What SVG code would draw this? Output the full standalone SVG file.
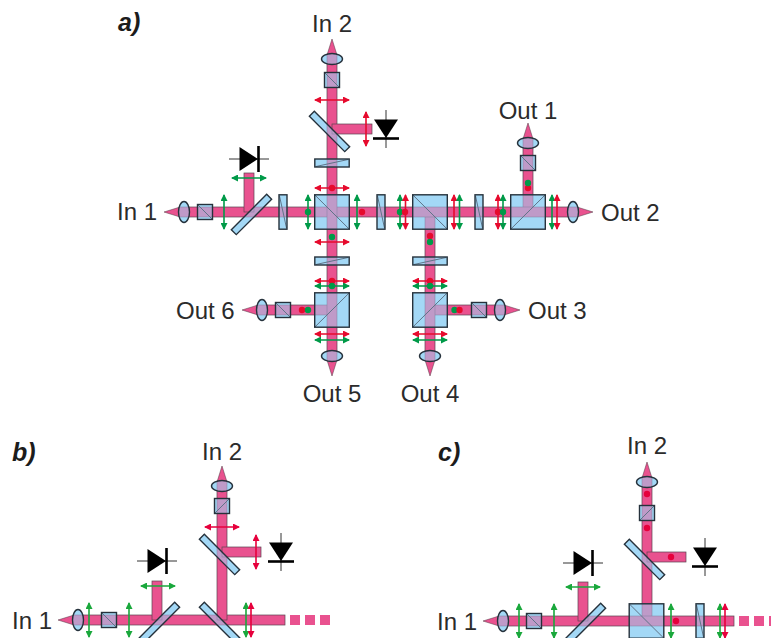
<svg xmlns="http://www.w3.org/2000/svg" width="771" height="638" viewBox="0 0 771 638">
<style>
.blue{fill:#a3d8f6}
.pur{fill:#bf9ac8;stroke:#7f7f9e;stroke-width:.5}
.edge{fill:none;stroke:#26323c;stroke-width:1.4}
.diag{fill:none;stroke:#5f7488;stroke-width:1}
.beam{fill:#e9528f;stroke:#5a4450;stroke-width:.7}
.dash{fill:#e9528f}
.tip{fill:#e9528f;stroke:#4a3640;stroke-width:.5}
.pr{stroke:#e60a2d;stroke-width:1.6;fill:none;marker-start:url(#mr);marker-end:url(#mr)}
.pg{stroke:#009a48;stroke-width:1.6;fill:none;marker-start:url(#mg);marker-end:url(#mg)}
.pr2{stroke:#e6003c;stroke-width:1.6;fill:none;marker-start:url(#mr2);marker-end:url(#mr2)}
.pg2{stroke:#1aa83c;stroke-width:1.6;fill:none;marker-start:url(#mg2);marker-end:url(#mg2)}
.dr{fill:#e60a2d}
.dr2{fill:#e6003c}
.dg{fill:#009a48}
.lbl{font-family:"Liberation Sans",Arial,sans-serif;font-size:24px;fill:#2b2b2b}
.pan{font-family:"Liberation Sans",Arial,sans-serif;font-size:25px;font-style:italic;font-weight:bold;fill:#1c1c1c}
.bar{stroke:#000;stroke-width:2.6}
.thin{stroke:#333;stroke-width:1}
</style>
<defs>
<marker id="mr" viewBox="0 0 7 7" refX="6" refY="3.5" markerWidth="7" markerHeight="7" markerUnits="userSpaceOnUse" orient="auto-start-reverse"><path d="M0 0L7 3.5L0 7Z" fill="#e60a2d"/></marker>
<marker id="mg" viewBox="0 0 7 7" refX="6" refY="3.5" markerWidth="7" markerHeight="7" markerUnits="userSpaceOnUse" orient="auto-start-reverse"><path d="M0 0L7 3.5L0 7Z" fill="#009a48"/></marker>
<marker id="mr2" viewBox="0 0 7 7" refX="6" refY="3.5" markerWidth="7" markerHeight="7" markerUnits="userSpaceOnUse" orient="auto-start-reverse"><path d="M0 0L7 3.5L0 7Z" fill="#e6003c"/></marker>
<marker id="mg2" viewBox="0 0 7 7" refX="6" refY="3.5" markerWidth="7" markerHeight="7" markerUnits="userSpaceOnUse" orient="auto-start-reverse"><path d="M0 0L7 3.5L0 7Z" fill="#1aa83c"/></marker>
<clipPath id="cl"><ellipse cx="0" cy="0" rx="5.5" ry="10.5"/></clipPath>
<clipPath id="cs"><rect x="-25" y="0" width="50" height="7" transform="rotate(-45)"/></clipPath>
<clipPath id="cb"><rect x="-25" y="0" width="50" height="7" transform="rotate(45)"/></clipPath>
<g id="lens">
<path class="tip" d="M-20 0L-4 -5V5Z"/>
<ellipse class="blue" rx="5.5" ry="10.5"/>
<rect class="pur" x="-6" y="-5" width="12" height="10" clip-path="url(#cl)"/>
<ellipse class="edge" rx="5.5" ry="10.5"/>
</g>
<g id="pol">
<rect class="blue" x="-7.5" y="-7.5" width="15" height="15"/>
<rect class="pur" x="-7.5" y="-5" width="15" height="10"/>
<path class="diag" d="M-7.5 -7.5L7.5 7.5"/>
<rect class="edge" x="-7.5" y="-7.5" width="15" height="15"/>
</g>
<g id="plate">
<rect class="blue" x="-4" y="-17.2" width="8" height="34.4"/>
<rect class="pur" x="-4" y="-5" width="8" height="10"/>
<path class="diag" d="M-3.5 -16L3.5 16"/>
<rect class="edge" x="-4" y="-17.2" width="8" height="34.4"/>
</g>
<g id="mf">
<rect class="blue" x="-25" y="0" width="50" height="7" transform="rotate(-45)"/>
<g clip-path="url(#cs)"><rect class="pur" x="-30" y="-5" width="60" height="10"/><rect class="pur" x="-5" y="-30" width="10" height="30"/></g>
<rect class="edge" x="-25" y="0" width="50" height="7" transform="rotate(-45)"/>
</g>
<g id="mb">
<rect class="blue" x="-25" y="0" width="50" height="7" transform="rotate(45)"/>
<g clip-path="url(#cb)"><rect class="pur" x="-5" y="-30" width="10" height="60"/><rect class="pur" x="0" y="-5" width="30" height="10"/></g>
<rect class="edge" x="-25" y="0" width="50" height="7" transform="rotate(45)"/>
</g>
<g id="mb2">
<rect class="blue" x="-25" y="0" width="50" height="7" transform="rotate(45)"/>
<g clip-path="url(#cb)"><rect class="pur" x="-30" y="-5" width="60" height="10"/><rect class="pur" x="-5" y="-30" width="10" height="30"/></g>
<rect class="edge" x="-25" y="0" width="50" height="7" transform="rotate(45)"/>
</g>
<rect id="cube" class="blue" x="-17.3" y="-17.2" width="34.6" height="34.4"/>
<rect id="cubee" class="edge" x="-17.3" y="-17.2" width="34.6" height="34.4"/>
<g id="dh"><path d="M-20 0H20" class="thin"/><path d="M-9.5 -12L9 0L-9.5 12Z" fill="#000"/><path d="M9.5 -13V13" class="bar"/></g>
<g id="dv"><path d="M0 -19V19" class="thin"/><path d="M-12 -9.5L12 -9.5L0 9Z" fill="#000"/><path d="M-13 9.5H13" class="bar"/></g>
</defs>

<g id="connectors">
<rect class="beam" x="184" y="207" width="389" height="10"/>
<rect class="beam" x="327" y="59" width="10" height="297"/>
<rect class="beam" x="244" y="173" width="10" height="39"/>
<rect class="beam" x="332" y="124" width="40" height="10"/>
<rect class="beam" x="523" y="142" width="10" height="70"/>
<rect class="beam" x="425" y="212" width="10" height="144"/>
<rect class="beam" x="262" y="305" width="70" height="10"/>
<rect class="beam" x="430" y="305" width="70" height="10"/>
<rect class="beam" x="78" y="615" width="207" height="10"/>
<rect class="beam" x="217" y="486" width="10" height="134"/>
<rect class="beam" x="152" y="581" width="10" height="39"/>
<rect class="beam" x="222" y="547" width="39" height="10"/>
<rect class="dash" x="290" y="615" width="10" height="10"/>
<rect class="dash" x="305" y="615" width="10" height="10"/>
<rect class="dash" x="320" y="615" width="10" height="10"/>
<rect class="beam" x="503" y="616" width="231" height="10"/>
<rect class="beam" x="642" y="482" width="10" height="139"/>
<rect class="beam" x="578" y="582" width="10" height="39"/>
<rect class="beam" x="647" y="552" width="39" height="10"/>
<rect class="dash" x="739" y="616" width="10" height="10"/>
<rect class="dash" x="754" y="616" width="10" height="10"/>
<rect class="dash" x="769" y="616" width="2" height="10"/>
<path class="pr" d="M315 100H349"/>
<path class="pr" d="M366 112V146"/>
<path class="pg" d="M232 178H266"/>
<path class="pg" d="M224 195V229"/>
<path class="pg" d="M308 195V229"/>
<path class="pg" d="M357 195V229"/>
<path class="pg" d="M400 195V229"/>
<path class="pr" d="M405.5 195V229"/>
<path class="pr" d="M454 195V229"/>
<path class="pg" d="M459.5 195V229"/>
<path class="pr" d="M498 195V229"/>
<path class="pg" d="M503 195V229"/>
<path class="pg" d="M552 195V229"/>
<path class="pr" d="M557 195V229"/>
<path class="pr" d="M315 188H349"/>
<path class="pr" d="M315 242H349"/>
<path class="pr" d="M315 281H349"/>
<path class="pg" d="M315 286H349"/>
<path class="pr" d="M413 281H447"/>
<path class="pg" d="M413 286H447"/>
<path class="pr" d="M315 334H349"/>
<path class="pg" d="M315 340H349"/>
<path class="pr" d="M413 334H447"/>
<path class="pg" d="M413 340H447"/>
<circle class="dg" cx="308" cy="212" r="3.2"/>
<circle class="dr" cx="362" cy="212" r="3.2"/>
<circle class="dg" cx="400" cy="212" r="3.2"/>
<circle class="dr" cx="405" cy="212" r="3.2"/>
<circle class="dr" cx="498" cy="212" r="3.2"/>
<circle class="dg" cx="503" cy="212" r="3.2"/>
<circle class="dr" cx="332" cy="188" r="3.2"/>
<circle class="dg" cx="332" cy="237" r="3.2"/>
<circle class="dr" cx="332" cy="281" r="3.2"/>
<circle class="dg" cx="332" cy="286" r="3.2"/>
<circle class="dr" cx="430" cy="236" r="3.2"/>
<circle class="dg" cx="430" cy="242" r="3.2"/>
<circle class="dr" cx="430" cy="281" r="3.2"/>
<circle class="dg" cx="430" cy="286" r="3.2"/>
<circle class="dr" cx="528" cy="188" r="3.2"/>
<circle class="dg" cx="528" cy="183" r="3.2"/>
<circle class="dr" cx="302" cy="310" r="3.2"/>
<circle class="dg" cx="308" cy="310" r="3.2"/>
<circle class="dg" cx="454.5" cy="310" r="3.2"/>
<circle class="dr" cx="459.5" cy="310" r="3.2"/>
<path class="pr2" d="M205 527H239"/>
<path class="pr2" d="M256 535V569"/>
<path class="pg2" d="M141 586H175"/>
<path class="pg2" d="M89 603V637"/>
<path class="pg2" d="M129 603V637"/>
<path class="pg2" d="M246 603V637"/>
<path class="pr2" d="M251 603V637"/>
<path class="pg2" d="M566 587H600"/>
<path class="pg2" d="M519 604V638"/>
<path class="pg2" d="M554 604V638"/>
<path class="pg2" d="M671 604V638"/>
<path class="pg2" d="M720 604V638"/>
<path class="pr2" d="M725 604V638"/>
<circle class="dr2" cx="647" cy="494" r="3.2"/>
<circle class="dr2" cx="647" cy="528" r="3.2"/>
<circle class="dr2" cx="671" cy="557" r="3.2"/>
<circle class="dr2" cx="676" cy="621" r="3.2"/>
</g>

<text id="label-a" class="pan" x="118" y="31">a)</text>
<text id="label-b" class="pan" x="12" y="461">b)</text>
<text id="label-c" class="pan" x="438" y="461">c)</text>

<g id="a-in1"><use href="#lens" transform="translate(184 212)"/><text class="lbl" x="117" y="220">In 1</text></g>
<g id="a-in2"><use href="#lens" transform="translate(332 59) rotate(90)"/><text class="lbl" x="332" y="32" text-anchor="middle">In 2</text></g>
<g id="a-out1"><use href="#lens" transform="translate(528 143) rotate(90)"/><text class="lbl" x="528" y="119" text-anchor="middle">Out 1</text></g>
<g id="a-out2"><use href="#lens" transform="translate(573 212) rotate(180)"/><text class="lbl" x="601" y="221">Out 2</text></g>
<g id="a-out3"><use href="#lens" transform="translate(500 310) rotate(180)"/><text class="lbl" x="528" y="319">Out 3</text></g>
<g id="a-out4"><use href="#lens" transform="translate(430 356) rotate(-90)"/><text class="lbl" x="430" y="402" text-anchor="middle">Out 4</text></g>
<g id="a-out5"><use href="#lens" transform="translate(332 356) rotate(-90)"/><text class="lbl" x="332" y="402" text-anchor="middle">Out 5</text></g>
<g id="a-out6"><use href="#lens" transform="translate(262 310)"/><text class="lbl" x="176" y="319">Out 6</text></g>
<g id="a-pol1"><use href="#pol" transform="translate(205 212)"/></g>
<g id="a-pol2"><use href="#pol" transform="translate(332 80) rotate(90) scale(1 -1)"/></g>
<g id="a-pol3"><use href="#pol" transform="translate(528 163) rotate(90) scale(1 -1)"/></g>
<g id="a-pol4"><use href="#pol" transform="translate(479 310)"/></g>
<g id="a-pol5"><use href="#pol" transform="translate(283 310)"/></g>
<g id="a-m1"><use href="#mf" transform="translate(249 212)"/></g>
<g id="a-m2"><use href="#mb" transform="translate(332 129)"/></g>
<g id="a-d1"><use href="#dh" transform="translate(249 159)"/></g>
<g id="a-d2"><use href="#dv" transform="translate(386 129)"/></g>
<g id="a-w1"><use href="#plate" transform="translate(283 212)"/></g>
<g id="a-w2"><use href="#plate" transform="translate(381 212)"/></g>
<g id="a-w3"><use href="#plate" transform="translate(479 212)"/></g>
<g id="a-w4"><use href="#plate" transform="translate(332 163) rotate(90)"/></g>
<g id="a-w5"><use href="#plate" transform="translate(332 261) rotate(90)"/></g>
<g id="a-w6"><use href="#plate" transform="translate(430 261) rotate(90)"/></g>
<g id="a-c1" transform="translate(332 212)"><use href="#cube"/><rect class="pur" x="-17.3" y="-5" width="34.6" height="10"/><rect class="pur" x="-5" y="-17.2" width="10" height="34.4"/><path class="diag" d="M-17.3 -17.2L17.3 17.2"/><use href="#cubee"/></g>
<g id="a-c2" transform="translate(430 212)"><use href="#cube"/><rect class="pur" x="-5" y="0" width="10" height="17.2"/><rect class="pur" x="-17.3" y="-5" width="34.6" height="10"/><path class="diag" d="M-17.3 -17.2L17.3 17.2"/><use href="#cubee"/></g>
<g id="a-c3" transform="translate(528 212)"><use href="#cube"/><rect class="pur" x="-5" y="-17.2" width="10" height="17.2"/><rect class="pur" x="-17.3" y="-5" width="34.6" height="10"/><path class="diag" d="M-17.3 17.2L17.3 -17.2"/><use href="#cubee"/></g>
<g id="a-c4" transform="translate(332 310)"><use href="#cube"/><rect class="pur" x="-17.3" y="-5" width="17.3" height="10"/><rect class="pur" x="-5" y="-17.2" width="10" height="34.4"/><path class="diag" d="M-17.3 17.2L17.3 -17.2"/><use href="#cubee"/></g>
<g id="a-c5" transform="translate(430 310)"><use href="#cube"/><rect class="pur" x="0" y="-5" width="17.3" height="10"/><rect class="pur" x="-5" y="-17.2" width="10" height="34.4"/><path class="diag" d="M-17.3 17.2L17.3 -17.2"/><use href="#cubee"/></g>

<g id="b-in1"><use href="#lens" transform="translate(78 620)"/><text class="lbl" x="12" y="629">In 1</text></g>
<g id="b-in2"><use href="#lens" transform="translate(222 486) rotate(90)"/><text class="lbl" x="222" y="460" text-anchor="middle">In 2</text></g>
<g id="b-pol1"><use href="#pol" transform="translate(109 620)"/></g>
<g id="b-pol2"><use href="#pol" transform="translate(222 506) rotate(90)"/></g>
<g id="b-m1"><use href="#mf" transform="translate(157 620)"/></g>
<g id="b-m2"><use href="#mb" transform="translate(222 552)"/></g>
<g id="b-m3"><use href="#mb2" transform="translate(222 620)"/></g>
<g id="b-d1"><use href="#dh" transform="translate(157 561)"/></g>
<g id="b-d2"><use href="#dv" transform="translate(281 552)"/></g>

<g id="c-in1"><use href="#lens" transform="translate(503 621)"/><text class="lbl" x="437" y="630">In 1</text></g>
<g id="c-in2"><use href="#lens" transform="translate(647 482) rotate(90)"/><text class="lbl" x="647" y="454" text-anchor="middle">In 2</text></g>
<g id="c-pol1"><use href="#pol" transform="translate(534 621)"/></g>
<g id="c-pol2"><use href="#pol" transform="translate(647 513) rotate(90)"/></g>
<g id="c-m1"><use href="#mf" transform="translate(583 621)"/></g>
<g id="c-m2"><use href="#mb" transform="translate(647 557)"/></g>
<g id="c-d1"><use href="#dh" transform="translate(583 563)"/></g>
<g id="c-d2"><use href="#dv" transform="translate(705 557)"/></g>
<g id="c-w1"><use href="#plate" transform="translate(700 621)"/></g>
<g id="c-c1" transform="translate(646.5 621)"><use href="#cube"/><rect class="pur" x="-4.5" y="-17.2" width="10" height="17.2"/><rect class="pur" x="-17.3" y="-5" width="34.6" height="10"/><path class="diag" d="M-17.3 -17.2L17.3 17.2"/><use href="#cubee"/></g>
</svg>
